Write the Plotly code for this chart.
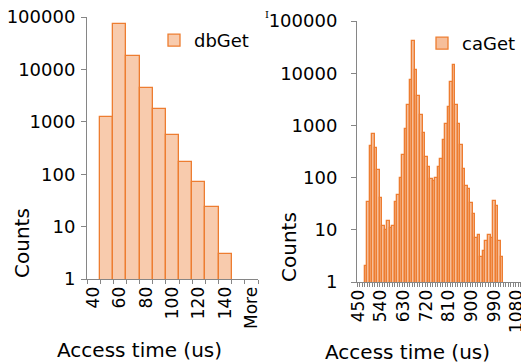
import plotly.graph_objects as go

# ---- data ----
db_labels = ["40", "50", "60", "70", "80", "90", "100", "110", "120", "130", "140", "150", "More"]
db_counts = [0, 1230, 74000, 18300, 4400, 1780, 550, 170, 72, 24, 3, 0, 0]

ca_labels = [str(v) for v in range(450, 1100, 10)]
ca_counts = [0, 0, 0,
             2, 34, 400, 690, 375, 140, 41, 12, 10, 15, 11, 12, 34, 46, 97, 268,
             850, 2450, 7550, 40700, 11500, 3600, 1590, 705, 245, 160, 94, 86, 100,
             158, 228, 517, 1065, 2250, 6730, 14200, 2420, 1070, 420, 148, 70, 61,
             32, 20, 7, 8, 3, 4, 6, 8, 7, 36, 28, 6, 3,
             0, 0, 0, 0, 0, 0, 0]

y_ticks = [1, 10, 100, 1000, 10000, 100000]

W, H = 521, 363
FONT = "DejaVu Sans, sans-serif"
FILL = "#F8CBAD"
EDGE = "#ED7D31"
AXC = "#868686"


def px(x):
    return x / W


def py(y):
    return 1 - y / H


fig = go.Figure()

dbx = [l for l, c in zip(db_labels, db_counts) if c > 0]
dby = [c for c in db_counts if c > 0]
fig.add_trace(go.Bar(x=dbx, y=dby, name="dbGet", xaxis="x", yaxis="y",
                     marker=dict(color=FILL, line=dict(color=EDGE, width=1.3)),
                     legend="legend", showlegend=True))

cax = [l for l, c in zip(ca_labels, ca_counts) if c > 0]
cay = [c for c in ca_counts if c > 0]
fig.add_trace(go.Bar(x=cax, y=cay, name="caGet", xaxis="x2", yaxis="y2",
                     marker=dict(color="#F6BE9A", line=dict(color=EDGE, width=1.3)),
                     legend="legend2", showlegend=True))

db_text = [l if i % 2 == 0 else "" for i, l in enumerate(db_labels)]
ca_text = [l if i % 9 == 0 else "" for i, l in enumerate(ca_labels)]

xcommon = dict(type="category", showline=True, linecolor=AXC, linewidth=1,
               ticks="outside", ticklen=4, tickcolor=AXC, tickson="boundaries",
               tickangle=-90, showgrid=False, zeroline=False, automargin=False,
               tickfont=dict(family=FONT, size=17, color="#000"))
ycommon = dict(type="log", range=[0, 5], showline=True, linecolor=AXC, linewidth=1,
               ticks="outside", ticklen=5, tickcolor=AXC, showgrid=False,
               zeroline=False, automargin=False,
               tickvals=y_ticks, ticktext=[str(v) for v in y_ticks],
               tickfont=dict(family=FONT, size=18, color="#000"))

title_font = dict(family=FONT, size=20, color="#000")

fig.update_layout(
    template="none",
    width=W, height=H, margin=dict(l=0, r=0, t=0, b=0, autoexpand=False),
    paper_bgcolor="white", plot_bgcolor="white", bargap=0,
    font=dict(family=FONT, color="#000"),
    xaxis=dict(xcommon, domain=[px(87), px(258)], anchor="y",
               categoryorder="array", categoryarray=db_labels,
               tickvals=db_labels, ticktext=db_text, range=[-0.5, 12.5]),
    yaxis=dict(ycommon, domain=[py(279), py(17)], anchor="x", ticklabelstandoff=2),
    xaxis2=dict(xcommon, domain=[px(357), 1.0], anchor="y2",
                categoryorder="array", categoryarray=ca_labels,
                tickvals=ca_labels, ticktext=ca_text, range=[-0.5, 64.6]),
    yaxis2=dict(ycommon, domain=[py(282), py(21)], anchor="x2", ticklabelstandoff=10),
    legend=dict(x=px(254), y=py(22), xanchor="right", yanchor="top",
                bgcolor="rgba(0,0,0,0)", font=dict(family=FONT, size=18, color="#000")),
    legend2=dict(x=1.0, y=py(25), xanchor="right", yanchor="top",
                 bgcolor="rgba(0,0,0,0)", font=dict(family=FONT, size=18, color="#000")),
    annotations=[
        dict(text="Counts", x=px(22), y=py(243), xref="paper", yref="paper",
             xanchor="center", yanchor="middle",
             textangle=-90, showarrow=False, font=title_font),
        dict(text="Access time (us)", x=px(139.5), y=py(350), xref="paper", yref="paper",
             xanchor="center", yanchor="middle", showarrow=False, font=title_font),
        dict(text="Counts", x=px(289), y=py(247), xref="paper", yref="paper",
             xanchor="center", yanchor="middle",
             textangle=-90, showarrow=False, font=title_font),
        dict(text="Access time (us)", x=px(407.5), y=py(352), xref="paper", yref="paper",
             xanchor="center", yanchor="middle", showarrow=False, font=title_font),
        dict(text="I", x=px(267), y=py(15), xref="paper", yref="paper",
             xanchor="center", yanchor="middle",
             showarrow=False, font=dict(family="DejaVu Serif", size=10, color="#000")),
    ],
)

fig.write_html("out.html", config={"displayModeBar": False},
               post_script="document.body.style.margin='0';")
